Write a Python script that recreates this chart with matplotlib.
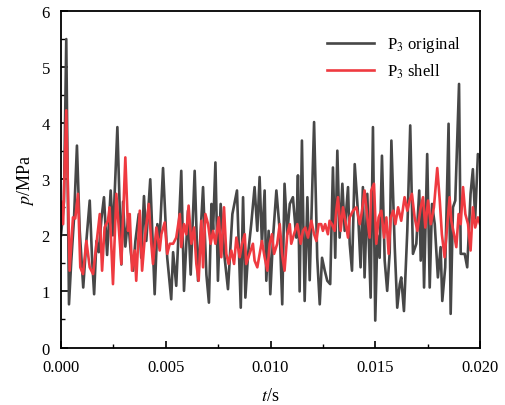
import matplotlib
matplotlib.use("Agg")
import matplotlib.pyplot as plt
from matplotlib.ticker import MultipleLocator, FormatStrFormatter

plt.rcParams['font.family'] = ['Liberation Serif', 'DejaVu Serif']
plt.rcParams['mathtext.fontset'] = 'stix'

# P3 original (dark line): time (s) and pressure (MPa)
t_orig = [0.0, 0.00014, 0.00025, 0.00038, 0.00049, 0.00062, 0.00076, 0.00089, 0.00106, 0.00121,
          0.00137, 0.00148, 0.00158, 0.00169, 0.0018, 0.00193, 0.00205, 0.0022, 0.00237, 0.00248,
          0.00269, 0.00288, 0.00296, 0.00307, 0.0032, 0.00333, 0.00344, 0.00355, 0.00371, 0.00383,
          0.00396, 0.00407, 0.00426, 0.00447, 0.0046, 0.00471, 0.00487, 0.00507, 0.00526, 0.00535,
          0.0055, 0.00574, 0.00587, 0.00606, 0.00619, 0.00638, 0.00654, 0.00678, 0.00694, 0.00706,
          0.00718, 0.00726, 0.00737, 0.00749, 0.00762, 0.00781, 0.00797, 0.00818, 0.00840, 0.00858,
          0.00869, 0.0088, 0.00893, 0.00908, 0.00924, 0.00937, 0.00948, 0.00959, 0.00972, 0.0098,
          0.00991, 0.00999, 0.01012, 0.01028, 0.01044, 0.01056, 0.01067, 0.0108, 0.01092, 0.01107,
          0.01123, 0.01131, 0.01139, 0.0115, 0.01163, 0.01176, 0.01187, 0.01208, 0.01223, 0.01235,
          0.01246, 0.01259, 0.01271, 0.01285, 0.01298, 0.01309, 0.01319, 0.0133, 0.01343, 0.01354,
          0.0137, 0.01378, 0.01389, 0.01402, 0.01418, 0.0143, 0.01441, 0.01449, 0.01462, 0.01478,
          0.01489, 0.015, 0.0151, 0.01521, 0.01532, 0.01545, 0.01557, 0.01569, 0.01577, 0.01593,
          0.01605, 0.01617, 0.01624, 0.01637, 0.01653, 0.01667, 0.0168, 0.01696, 0.0171, 0.01717,
          0.01725, 0.01733, 0.01748, 0.0176, 0.01771, 0.01784, 0.01799, 0.01812, 0.0182, 0.01834,
          0.0185, 0.0186, 0.01871, 0.01882, 0.019, 0.01908, 0.01927, 0.01939, 0.01955, 0.01966,
          0.01977, 0.0199, 0.0200]
p_orig = [2.0, 2.6, 5.5, 0.77, 1.55, 2.3, 3.6, 2.1, 1.07, 1.9,
          2.62, 1.6, 0.95, 1.9, 1.7, 2.3, 2.68, 1.65, 2.8, 2.0,
          3.93, 1.48, 2.6, 1.8, 2.3, 1.7, 1.37, 1.9, 2.38, 1.6,
          2.7, 1.9, 3.0, 0.95, 2.2, 1.96, 3.2, 1.6, 0.86, 1.7,
          1.1, 3.15, 1.01, 2.44, 1.3, 3.15, 1.19, 2.86, 1.3, 0.8,
          2.56, 2.1, 3.3, 1.19, 2.56, 1.6, 1.04, 2.38, 2.8, 0.71,
          2.68, 0.89, 1.67, 2.2, 2.86, 2.08, 3.04, 1.85, 2.8, 1.19,
          2.08, 0.95, 1.96, 2.8, 2.08, 0.77, 2.92, 2.02, 2.56, 2.68,
          1.96, 3.07, 1.0, 3.69, 0.83, 2.68, 1.2, 4.02, 1.6, 0.77,
          1.6, 1.37, 1.19, 1.13, 3.21, 1.6, 3.51, 1.96, 2.92, 2.08,
          2.86, 1.85, 1.37, 3.27, 2.38, 1.43, 2.86, 1.25, 2.74, 0.89,
          3.93, 0.48, 2.0, 1.6, 3.42, 1.55, 1.01, 1.7, 3.69, 1.79,
          0.71, 1.13, 1.25, 0.65, 2.08, 3.96, 1.67, 1.85, 2.8, 1.55,
          2.6, 1.07, 3.45, 1.07, 2.56, 2.2, 1.25, 1.79, 0.83, 1.43,
          3.99, 0.6, 2.5, 2.62, 4.7, 1.67, 1.67, 1.43, 2.74, 3.18,
          2.3, 3.45, 3.4]

# P3 shell (red line)
t_shell = [0.0, 0.0001, 0.00025, 0.00041, 0.00057, 0.00068, 0.00081, 0.00092, 0.00105, 0.00121,
           0.00137, 0.00153, 0.00169, 0.00185, 0.00196, 0.00208, 0.00224, 0.00232, 0.00248, 0.00264,
           0.00288, 0.00307, 0.0032, 0.00328, 0.00339, 0.00352, 0.00359, 0.00376, 0.00387, 0.004,
           0.00419, 0.00431, 0.00439, 0.00455, 0.00471, 0.00479, 0.00495, 0.00507, 0.00519, 0.00535,
           0.0055, 0.00567, 0.00574, 0.00587, 0.00598, 0.00609, 0.00622, 0.00635, 0.00646, 0.00657,
           0.0067, 0.00678, 0.00689, 0.00702, 0.00714, 0.00726, 0.00737, 0.00753, 0.00765, 0.00778,
           0.00789, 0.008, 0.00813, 0.00826, 0.00837, 0.00853, 0.00864, 0.00877, 0.00884, 0.009,
           0.00916, 0.00924, 0.00937, 0.00948, 0.00959, 0.00972, 0.00985, 0.00996, 0.01007, 0.01017,
           0.01032, 0.01044, 0.01055, 0.01067, 0.0108, 0.01092, 0.01099, 0.01112, 0.01128, 0.01144,
           0.01155, 0.01166, 0.01179, 0.01195, 0.01208, 0.01219, 0.0123, 0.01242, 0.0125, 0.01261,
           0.01274, 0.01282, 0.01293, 0.01306, 0.01314, 0.01322, 0.01335, 0.01346, 0.01357, 0.0137,
           0.01378, 0.01394, 0.0141, 0.01426, 0.01437, 0.01449, 0.01462, 0.01473, 0.01481, 0.01494,
           0.01505, 0.01516, 0.01529, 0.01542, 0.01553, 0.01564, 0.01574, 0.01586, 0.01596, 0.01609,
           0.01624, 0.0164, 0.01653, 0.01664, 0.01675, 0.01688, 0.01701, 0.01717, 0.01728, 0.01739,
           0.01752, 0.01765, 0.0178, 0.01796, 0.01808, 0.01818, 0.01831, 0.01844, 0.01855, 0.01863,
           0.01876, 0.01887, 0.01898, 0.01908, 0.01919, 0.0193, 0.01943, 0.01955, 0.01966, 0.01977,
           0.0199, 0.0200]
p_shell = [2.6, 2.2, 4.23, 1.37, 2.32, 2.3, 2.74, 1.43, 1.31, 1.9,
           1.43, 1.31, 1.85, 2.38, 1.37, 2.14, 2.26, 2.5, 1.13, 2.74,
           1.49, 3.39, 2.08, 2.38, 1.37, 1.73, 1.19, 2.44, 1.37, 1.96,
           2.56, 1.85, 1.49, 2.14, 1.73, 2.02, 2.23, 1.67, 1.85, 1.85,
           1.96, 2.38, 1.79, 2.2, 2.02, 2.53, 1.85, 2.14, 1.49, 1.19,
           2.26, 1.43, 2.38, 2.2, 1.85, 2.08, 1.85, 2.32, 1.61, 2.5,
           1.67, 1.49, 1.73, 1.49, 1.96, 1.61, 1.85, 2.02, 1.49, 1.67,
           1.85, 1.55, 1.43, 1.67, 1.9, 1.61, 1.37, 1.85, 2.02, 1.67,
           1.85, 2.2, 1.67, 1.37, 2.02, 2.2, 1.85, 2.02, 2.2, 1.85,
           2.08, 2.14, 1.96, 2.26, 2.02, 1.9, 2.2, 2.2, 2.08, 2.2,
           2.02, 2.26, 2.2, 2.08, 2.44, 2.68, 2.08, 2.5, 2.26, 1.96,
           2.32, 2.44, 2.5, 2.2, 2.44, 2.8, 2.32, 1.96, 2.8, 2.92,
           1.85, 2.32, 2.44, 1.96, 2.32, 1.67, 2.32, 2.44, 2.2, 2.5,
           2.26, 2.68, 2.44, 2.62, 2.74, 2.32, 2.08, 2.5, 2.68, 2.14,
           2.62, 2.2, 2.5, 3.2, 2.62, 2.02, 1.61, 2.2, 2.68, 2.26,
           2.02, 1.79, 2.38, 2.2, 2.86, 2.38, 2.2, 1.73, 2.5, 2.14,
           2.32, 2.2]

fig = plt.figure(figsize=(5.06, 4.06), dpi=100)
ax = fig.add_axes([0.1206, 0.1416, 0.828, 0.8288])

ax.plot(t_orig, p_orig, color='#474747', lw=1.9, label='P$_3$ original')
ax.plot(t_shell, p_shell, color='#ef3a40', lw=1.9, label='P$_3$ shell')

ax.set_xlim(0, 0.020)
ax.set_ylim(0, 6)
ax.xaxis.set_major_locator(MultipleLocator(0.005))
ax.xaxis.set_minor_locator(MultipleLocator(0.0025))
ax.yaxis.set_major_locator(MultipleLocator(1))
ax.yaxis.set_minor_locator(MultipleLocator(0.5))
ax.xaxis.set_major_formatter(FormatStrFormatter('%.3f'))
ax.tick_params(which='both', direction='in', top=False, right=False, labelsize=12)
ax.tick_params(which='major', length=5, width=1.2)
ax.tick_params(which='minor', length=3, width=1.0)
ax.tick_params(axis='x', pad=8)
ax.tick_params(axis='y', pad=8)
for s in ax.spines.values():
    s.set_linewidth(1.3)

ax.set_xlabel('$t$/s', fontsize=13, labelpad=9)
ax.set_ylabel('$p$/MPa', fontsize=13, labelpad=4)

ax.legend(loc='upper right', frameon=False, fontsize=12, handlelength=2.8,
          labelspacing=0.45, bbox_to_anchor=(0.99, 0.975))

fig.savefig('out.png', dpi=100)
